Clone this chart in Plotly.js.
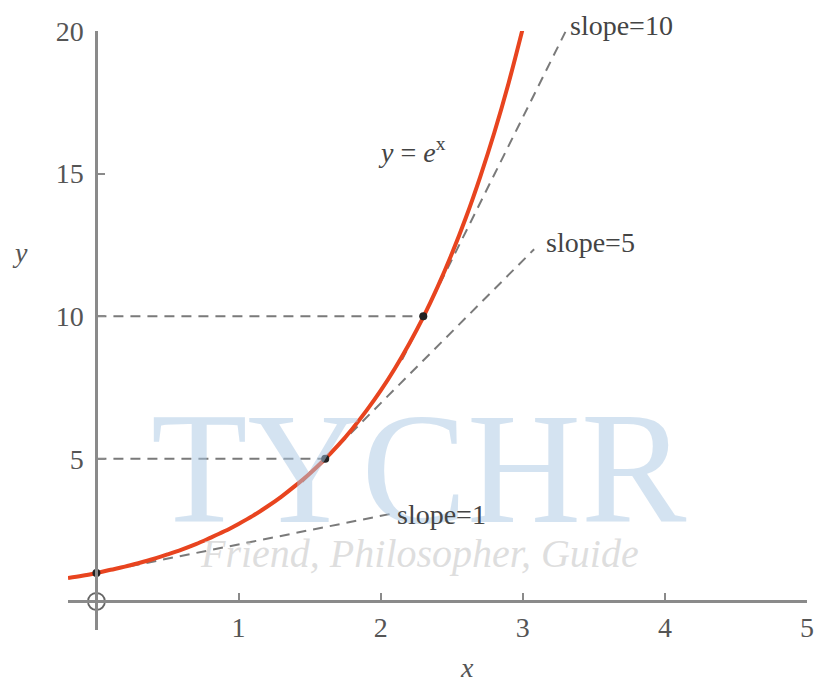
<!DOCTYPE html>
<html>
<head>
<meta charset="utf-8">
<script src="https://cdn.plot.ly/plotly-3.0.1.min.js"></script>
<style>html,body{margin:0;padding:0;background:#fff;}#chart{width:816px;height:683px;}</style>
</head>
<body>
<div id="chart"></div>
<script>
// y = e^x curve
const curveX = [-0.2,-0.1,0,0.1,0.2,0.3,0.4,0.5,0.6,0.7,0.8,0.9,1.0,1.1,1.2,1.3,1.4,1.5,1.6,1.7,1.8,1.9,2.0,2.1,2.2,2.3,2.4,2.5,2.6,2.7,2.8,2.9,3.0];
const curveY = [0.82,0.90,1.00,1.11,1.22,1.35,1.49,1.65,1.82,2.01,2.23,2.46,2.72,3.00,3.32,3.67,4.06,4.48,4.95,5.47,6.05,6.69,7.39,8.17,9.03,9.97,11.02,12.18,13.46,14.88,16.44,18.17,20.09];

// tangent lines (end points)
const tan1X = [0, 2.08],  tan1Y = [1, 3.08];
const tan5X = [1.45, 3.08], tan5Y = [4.2, 12.35];
const tan10X = [2.15, 3.3], tan10Y = [8.47, 19.97];

// horizontal guide lines
const guide5X = [0, 1.61],  guide5Y = [5, 5];
const guide10X = [0, 2.30], guide10Y = [10, 10];

// tangent points
const ptsX = [0, 1.61, 2.30];
const ptsY = [1, 5, 10];

// origin marker
const originX = [0], originY = [0];

const xTicks = [1, 2, 3, 4, 5];
const yTicks = [5, 10, 15, 20];

const dashStyle = {color: '#7a7a7a', width: 2, dash: '10px,7px'};
const serif = 'Liberation Serif, Times New Roman, serif';

const traces = [
  {x: guide5X, y: guide5Y, mode: 'lines', line: dashStyle, hoverinfo: 'skip'},
  {x: guide10X, y: guide10Y, mode: 'lines', line: dashStyle, hoverinfo: 'skip'},
  {x: tan1X, y: tan1Y, mode: 'lines', line: dashStyle, hoverinfo: 'skip'},
  {x: tan5X, y: tan5Y, mode: 'lines', line: dashStyle, hoverinfo: 'skip'},
  {x: tan10X, y: tan10Y, mode: 'lines', line: dashStyle, hoverinfo: 'skip', cliponaxis: false},
  {x: curveX, y: curveY, mode: 'lines', line: {color: '#e8441f', width: 4, shape: 'spline'}, cliponaxis: false},
  {x: ptsX, y: ptsY, mode: 'markers', marker: {color: '#222', size: 8}},
  {x: originX, y: originY, mode: 'markers', marker: {symbol: 'circle-cross-open', size: 17, color: '#666', line: {width: 1.8, color: '#666'}}, cliponaxis: false}
];

const layout = {
  width: 816, height: 683,
  margin: {l: 68, r: 9, t: 31, b: 53},
  paper_bgcolor: '#fff', plot_bgcolor: '#fff',
  showlegend: false,
  xaxis: {
    range: [-0.2, 5], domain: [0, 1], anchor: 'free', position: 1/21,
    showgrid: false, zeroline: false, showline: true,
    linecolor: '#8a8a8a', linewidth: 2.5,
    ticks: 'inside', ticklen: 7, tickwidth: 2, tickcolor: '#8a8a8a',
    tickvals: xTicks, ticktext: xTicks.map(String),
    tickfont: {family: serif, size: 28, color: '#555'}
  },
  yaxis: {
    range: [-1, 20], domain: [0, 1], anchor: 'free', position: 0.2/5.2,
    showgrid: false, zeroline: false, showline: true,
    linecolor: '#8a8a8a', linewidth: 2.5,
    ticks: 'inside', ticklen: 7, tickwidth: 2, tickcolor: '#8a8a8a',
    tickvals: yTicks, ticktext: yTicks.map(String),
    ticklabelstandoff: 6,
    tickfont: {family: serif, size: 28, color: '#555'}
  },
  annotations: [
    {xref: 'paper', yref: 'paper', x: 0.475, y: 0.269, xanchor: 'center', yanchor: 'middle', text: 'TYCHR', showarrow: false,
     font: {family: serif, size: 158, color: 'rgba(170,200,228,0.5)'}},
    {xref: 'paper', yref: 'paper', x: 0.475, y: 0.128, xanchor: 'center', yanchor: 'middle', text: '<i>Friend, Philosopher, Guide</i>', showarrow: false,
     font: {family: serif, size: 40, color: 'rgba(190,190,190,0.5)'}},
    {xref: 'paper', yref: 'paper', x: 0.676, y: 1.01, text: 'slope=10', showarrow: false, xanchor: 'left', yanchor: 'middle',
     font: {family: serif, size: 28, color: '#444'}},
    {x: 3.15, y: 12.6, text: 'slope=5', showarrow: false, xanchor: 'left', yanchor: 'middle',
     font: {family: serif, size: 28, color: '#444'}},
    {x: 2.1, y: 3.05, text: 'slope=1', showarrow: false, xanchor: 'left', yanchor: 'middle',
     font: {family: serif, size: 28, color: '#444'}},
    {x: 2.22, y: 15.8, text: '<i>y</i> = <i>e</i><sup>x</sup>', showarrow: false, xanchor: 'center', yanchor: 'middle',
     font: {family: serif, size: 28, color: '#444'}},
    {xref: 'paper', yref: 'paper', x: -0.065, y: 0.631, text: '<i>y</i>', showarrow: false, xanchor: 'center', yanchor: 'middle',
     font: {family: serif, size: 28, color: '#555'}},
    {xref: 'paper', yref: 'paper', x: 0.54, y: -0.063, text: '<i>x</i>', showarrow: false, xanchor: 'center', yanchor: 'middle',
     font: {family: serif, size: 28, color: '#555'}}
  ]
};

Plotly.newPlot('chart', traces, layout, {displayModeBar: false, staticPlot: true});
</script>
</body>
</html>
